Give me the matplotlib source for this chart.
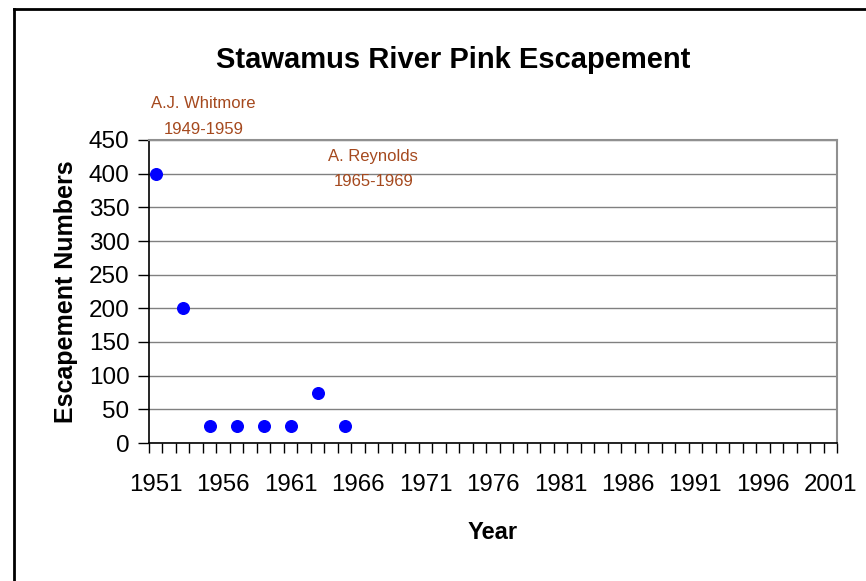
import matplotlib.pyplot as plt
from matplotlib.lines import Line2D
from matplotlib.ticker import MultipleLocator

plt.rcParams['font.family'] = ['Liberation Sans', 'DejaVu Sans']

years = [1951, 1953, 1955, 1957, 1959, 1961, 1963, 1965]
escapement = [400, 200, 25, 25, 25, 25, 75, 25]
year_labels = list(range(1951, 2002, 5))

fig = plt.figure(figsize=(8.66, 5.81), dpi=100)
ax = fig.add_axes([149/866, 1-443/581, (837-149)/866, (443-140)/581])

ax.scatter(years, escapement, s=70, color='#0000FF', zorder=3, clip_on=False)

ax.set_xlim(1950.5, 2001.5)
ax.set_ylim(0, 450)
ax.yaxis.set_major_locator(MultipleLocator(50))
ax.set_xticks(year_labels)
ax.set_xticks([y - 0.5 for y in range(1951, 2003)], minor=True)
ax.tick_params(axis='x', which='major', length=0, pad=22, labelsize=17.3)
ax.tick_params(axis='x', which='minor', length=7, width=1, direction='out')
ax.tick_params(axis='y', which='major', length=8, width=1, direction='out', labelsize=17.5, pad=6)

ax.grid(axis='y', color='#808080', linewidth=1)
ax.set_axisbelow(True)
for s in ['top', 'right']:
    ax.spines[s].set_color('#909090')
    ax.spines[s].set_linewidth(1.5)
for s in ['left', 'bottom']:
    ax.spines[s].set_color('black')
    ax.spines[s].set_linewidth(1.2)

ax.set_xlabel('Year', fontsize=17, fontweight='bold', labelpad=18)
ax.set_ylabel('Escapement Numbers', fontsize=18, fontweight='bold', labelpad=8)

fig.text(453/866, 1-60/581, 'Stawamus River Pink Escapement', fontsize=21,
         fontweight='bold', ha='center', va='center')

brown = '#A5491E'
fig.text(203/866, 1-103/581, 'A.J. Whitmore', fontsize=12, color=brown, ha='center', va='center')
fig.text(204/866, 1-129/581, '1949-1959', fontsize=12, color=brown, ha='center', va='center')
fig.text(373/866, 1-157/581, 'A. Reynolds', fontsize=12, color=brown, ha='center', va='center')
fig.text(374/866, 1-182/581, '1965-1969', fontsize=12, color=brown, ha='center', va='center')

# outer frame (left and top edges visible)
fig.add_artist(Line2D([14/866, 14/866], [0, 1-9/581], color='black', lw=2, transform=fig.transFigure))
fig.add_artist(Line2D([14/866, 1], [1-9/581, 1-9/581], color='black', lw=2, transform=fig.transFigure))

fig.savefig('out.png', dpi=100)
